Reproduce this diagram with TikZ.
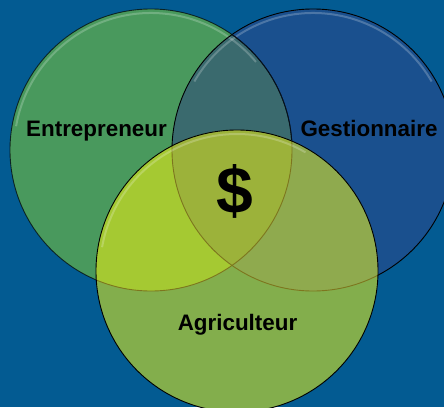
\documentclass[tikz,border=0pt]{standalone}
\usepackage{fontspec}
\setmainfont{Liberation Sans}
\definecolor{bgc}{RGB}{3,91,146}
\definecolor{cG}{RGB}{73,153,93}
\definecolor{cB}{RGB}{26,80,142}
\definecolor{cGB}{RGB}{58,106,110}
\definecolor{cY}{RGB}{131,174,76}
\definecolor{cYG}{RGB}{165,201,50}
\definecolor{cYB}{RGB}{143,170,78}
\definecolor{cYGB}{RGB}{156,178,58}
\definecolor{olivec}{RGB}{125,118,30}
\tikzset{
  lbl/.style={font=\fontsize{22.4}{26}\selectfont\bfseries, text=black, anchor=base, inner sep=0pt},
  edge/.style={draw=black, line width=0.9pt},
  hilite/.style={draw=white, draw opacity=0.22, line width=2pt}
}
\begin{document}
\begin{tikzpicture}[x=1pt,y=-1pt]
\useasboundingbox (0,0) rectangle (444,407);
\clip (0,0) rectangle (444,407);
\fill[bgc] (0,0) rectangle (444,407);
\coordinate (G) at (151,150);
\coordinate (B) at (313,150);
\coordinate (Y) at (237,271);
\def\R{141}
% green and blue
\fill[cG] (G) circle (\R);
\fill[cB] (B) circle (\R);
\begin{scope}
  \clip (G) circle (\R);
  \fill[cGB] (B) circle (\R);
\end{scope}
\draw[hilite] (G) ++(190:137) arc (190:320:137);
\draw[hilite] (B) ++(210:137) arc (210:330:137);
\draw[edge] (B) circle (\R);
\draw[edge, draw opacity=0.7] (G) circle (\R);
\begin{scope}
  \clip (B) circle (\R);
  \draw[draw=black!80!cB, line width=0.9pt] (G) circle (\R);
\end{scope}
% yellow
\fill[cY] (Y) circle (\R);
\begin{scope}
  \clip (Y) circle (\R);
  \fill[cYG] (G) circle (\R);
  \fill[cYB] (B) circle (\R);
  \begin{scope}
    \clip (G) circle (\R);
    \fill[cYGB] (B) circle (\R);
  \end{scope}
  \draw[draw=olivec, line width=0.9pt] (G) circle (\R);
  \draw[draw=olivec, line width=0.9pt] (B) circle (\R);
\end{scope}
\draw[hilite] (Y) ++(190:137) arc (190:300:137);
\draw[edge] (Y) circle (\R);
% labels
\node[lbl] (entre) at (96.5,136) {Entrepreneur};
\node[lbl] (gest) at (369,136) {Gestionnaire};
\node[lbl] (agri) at (237.5,330) {Agriculteur};
\node[lbl, font=\fontsize{66}{74}\selectfont\bfseries] (dollar) at (234.5,213) {\$};
\end{tikzpicture}
\end{document}
